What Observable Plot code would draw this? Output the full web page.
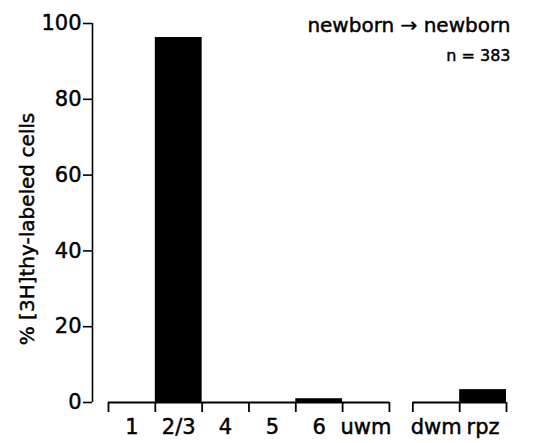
<!DOCTYPE html>
<html>
<head>
<meta charset="utf-8">
<script src="https://cdn.jsdelivr.net/npm/d3@7"></script>
<script src="https://cdn.jsdelivr.net/npm/@observablehq/plot@0.6"></script>
<style>
  html, body { margin: 0; padding: 0; background: #fff; }
  #chart svg { display: block; }
  #chart svg text { stroke: #000; stroke-width: 0.45px; }
</style>
</head>
<body>
<div id="chart"></div>
<script>
// Data
const categories = ["1", "2/3", "4", "5", "6", "uwm", "dwm", "rpz"];
const values = [0, 96.3, 0, 0, 1, 0, 0, 3.4];
const groups = [0, 0, 0, 0, 0, 0, 1, 1];   // 0 = cortical layers/uwm, 1 = dwm/rpz
const yTicks = [0, 20, 40, 60, 80, 100];
const titleText = "newborn \u2192 newborn";
const nText = "n = 383";
const yLabel = "% [3H]thy-labeled cells";

const GAP = 0.5; // gap between the two groups, in bar widths
const data = categories.map((c, i) => ({
  category: c,
  value: values[i],
  x1: i + groups[i] * GAP,
  x2: i + 1 + groups[i] * GAP
}));
const edges = Array.from(new Set(data.flatMap(d => [d.x1, d.x2]))).sort((a, b) => a - b);
const centers = data.map(d => (d.x1 + d.x2) / 2);
const segs = d3.groups(data, (d, i) => groups[i]).map(([g, arr]) => ({
  x1: d3.min(arr, d => d.x1), x2: d3.max(arr, d => d.x2)
}));
const maxX = d3.max(data, d => d.x2);

const font = "'DejaVu Sans', sans-serif";

const chart = Plot.plot({
  width: 547,
  height: 443,
  marginTop: 23,
  marginBottom: 41,
  marginLeft: 92,
  marginRight: 37,
  style: { fontFamily: font, color: "#000", background: "#fff" },
  x: { type: "linear", domain: [0, maxX], range: [108, 506] },
  y: { domain: [0, 100] },
  marks: [
    Plot.axisY({
      ticks: yTicks, tickSize: 9, tickPadding: 2, fontSize: 21,
      label: null, strokeWidth: 1.6
    }),
    // vertical y-axis line, offset to the left of the first bin
    Plot.ruleX([0], { y1: 0, y2: 100, dx: -16, strokeWidth: 1.6, stroke: "#000" }),
    Plot.axisX({
      ticks: edges, tickFormat: () => "", tickSize: 10, strokeWidth: 1.8, label: null
    }),
    Plot.axisX({
      ticks: centers, tickSize: 0, tickPadding: 17, fontSize: 21,
      tickFormat: (d) => categories[centers.indexOf(d)], label: null
    }),
    Plot.ruleY(segs, { y: 0, x1: "x1", x2: "x2", strokeWidth: 2, stroke: "#000" }),
    Plot.rectY(data, { x1: "x1", x2: "x2", y: "value", fill: "#000" }),
    Plot.text([yLabel], {
      frameAnchor: "left", textAnchor: "middle", rotate: -90, dx: -65, dy: 16,
      fontSize: 20, fill: "#000"
    }),
    Plot.text([titleText], {
      frameAnchor: "top-right", lineAnchor: "bottom", dy: 8,
      fontSize: 20, fill: "#000"
    }),
    Plot.text([nText], {
      frameAnchor: "top-right", lineAnchor: "middle", dy: 32,
      fontSize: 16, fill: "#000"
    })
  ]
});
document.getElementById("chart").appendChild(chart);
</script>
</body>
</html>
